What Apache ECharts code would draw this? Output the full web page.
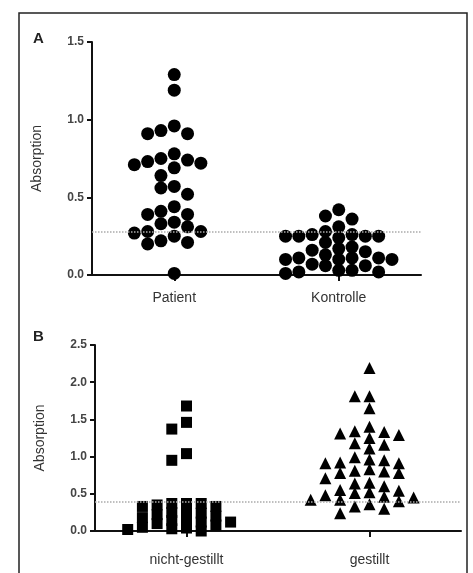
<!DOCTYPE html>
<html>
<head>
<meta charset="utf-8">
<script src="https://cdn.jsdelivr.net/npm/echarts@6/dist/echarts.min.js"></script>
<style>
  html, body { margin: 0; padding: 0; background: #fff; }
  #chart { width: 473px; height: 573px; }
</style>
</head>
<body>
<div id="chart"></div>
<script>
// Panel A
const catsA = ['Patient', 'Kontrolle']
const patient = [1.29, 1.19, 0.96, 0.93, 0.91, 0.91, 0.78, 0.75, 0.74, 0.73, 0.72, 0.71, 0.69, 0.64,
  0.57, 0.56, 0.52, 0.44, 0.41, 0.39, 0.39, 0.34, 0.33, 0.31, 0.28, 0.28, 0.27, 0.25, 0.22, 0.21, 0.20, 0.01]
const kontrolle = [0.42, 0.38, 0.36, 0.31, 0.28, 0.26, 0.26, 0.25, 0.25, 0.25, 0.25, 0.24, 0.21, 0.18,
  0.17, 0.16, 0.15, 0.13, 0.11, 0.11, 0.11, 0.10, 0.10, 0.10, 0.07, 0.06, 0.06, 0.03, 0.03, 0.02, 0.02, 0.01]
const cutoffA = 0.28
const yTicksA = [0, 0.5, 1.0, 1.5]

// Panel B
const catsB = ['nicht-gestillt', 'gestillt']
const nichtGestillt = [1.68, 1.46, 1.37, 1.04, 0.95, 0.37, 0.37, 0.37, 0.35, 0.33, 0.33, 0.26, 0.25,
  0.24, 0.22, 0.20, 0.18, 0.15, 0.14, 0.12, 0.12, 0.10, 0.08, 0.05, 0.04, 0.03, 0.02, 0.0]
const gestillt = [2.19, 1.81, 1.81, 1.65, 1.40, 1.34, 1.33, 1.31, 1.29, 1.25, 1.18, 1.16, 1.11, 0.99,
  0.96, 0.95, 0.92, 0.91, 0.91, 0.83, 0.81, 0.80, 0.78, 0.78, 0.71, 0.65, 0.64, 0.60, 0.55, 0.54,
  0.52, 0.51, 0.48, 0.46, 0.45, 0.42, 0.42, 0.40, 0.36, 0.33, 0.30, 0.24]
const cutoffB = 0.39
const yTicksB = [0, 0.5, 1.0, 1.5, 2.0, 2.5]

const gridA = { left: 92, top: 42, width: 329, height: 233 }
const gridB = { left: 95, top: 345, width: 366, height: 186 }

// simple column beeswarm: points stacked in columns around the category centre
function swarm(values, catIndex, grid, yMax, colPx, gap) {
  const pxPerUnit = grid.height / yMax
  const placed = []
  const out = []
  const order = values.map((v, i) => i).sort((a, b) => values[b] - values[a])
  order.forEach(i => {
    const y = values[i] * pxPerUnit
    for (let k = 0; k < 30; k++) {
      const col = k === 0 ? 0 : (k % 2 ? -Math.ceil(k / 2) : k / 2)
      const hit = placed.some(p => p.col === col && Math.abs(p.y - y) < gap)
      if (!hit) {
        placed.push({ col, y })
        out.push([catIndex + col * colPx * 2 / grid.width, values[i]])
        break
      }
    }
  })
  return out
}

const tickLabel = { color: '#444', fontSize: 12, fontWeight: 'bold', fontFamily: 'Liberation Sans Narrow, Liberation Sans, Arial', margin: 8,
  formatter: v => v.toFixed(1) }
const catLabel = { color: '#333', fontSize: 14, fontFamily: 'Liberation Sans, Arial' }
const blackLine = { lineStyle: { color: '#111', width: 2 } }

function yAxis(gridIndex, ticks) {
  return {
    type: 'value', gridIndex, min: ticks[0], max: ticks[ticks.length - 1], interval: 0.5,
    name: 'Absorption', nameLocation: 'middle', nameGap: 48,
    nameTextStyle: { color: '#333', fontSize: 14, fontFamily: 'Liberation Sans, Arial' },
    axisLine: { show: true, onZero: false, ...blackLine }, axisTick: { show: true, length: 5, ...blackLine },
    axisLabel: tickLabel, splitLine: { show: false }
  }
}

function catAxis(gridIndex, cats, margin) {
  return {
    type: 'category', gridIndex, data: cats, boundaryGap: true,
    axisLine: { show: true, onZero: false, ...blackLine },
    axisTick: { show: true, alignWithLabel: true, length: 6, ...blackLine },
    axisLabel: { ...catLabel, margin }
  }
}

function posAxis(gridIndex) {
  return { type: 'value', gridIndex, min: -0.5, max: 1.5, show: false }
}

function cutLine(y) {
  return {
    silent: true, symbol: 'none', label: { show: false },
    lineStyle: { color: '#aaa', type: 'dotted', width: 1.5 },
    data: [{ yAxis: y }]
  }
}

function dots(xIdx, yIdx, data, symbol, size, markLine) {
  const s = {
    type: 'scatter', xAxisIndex: xIdx, yAxisIndex: yIdx, data, symbol, symbolSize: size,
    itemStyle: { color: '#000', opacity: 1 }, clip: false, z: 3
  }
  if (markLine) s.markLine = markLine
  return s
}

const chart = echarts.init(document.getElementById('chart'))
chart.setOption({
  backgroundColor: '#fff',
  animation: false,
  title: [
    { text: 'A', left: 28, top: 26, textStyle: { fontSize: 15, fontWeight: 'bold', color: '#222', fontFamily: 'Liberation Sans, Arial' } },
    { text: 'B', left: 28, top: 324, textStyle: { fontSize: 15, fontWeight: 'bold', color: '#222', fontFamily: 'Liberation Sans, Arial' } }
  ],
  graphic: [{
    type: 'rect', shape: { x: 19, y: 13, width: 448, height: 570 },
    style: { fill: 'none', stroke: '#222', lineWidth: 1.5 }, z: 0
  }],
  grid: [gridA, gridB],
  xAxis: [catAxis(0, catsA, 16), posAxis(0), catAxis(1, catsB, 22), posAxis(1)],
  yAxis: [yAxis(0, yTicksA), yAxis(1, yTicksB)],
  series: [
    dots(1, 0, swarm(patient, 0, gridA, 1.5, 13.3, 11), 'circle', 13, cutLine(cutoffA)),
    dots(1, 0, swarm(kontrolle, 1, gridA, 1.5, 13.3, 10), 'circle', 13),
    dots(3, 1, swarm(nichtGestillt, 0, gridB, 2.5, 14.7, 8), 'rect', 11, cutLine(cutoffB)),
    dots(3, 1, swarm(gestillt, 1, gridB, 2.5, 14.7, 9), 'triangle', 12)
  ]
})
</script>
</body>
</html>
